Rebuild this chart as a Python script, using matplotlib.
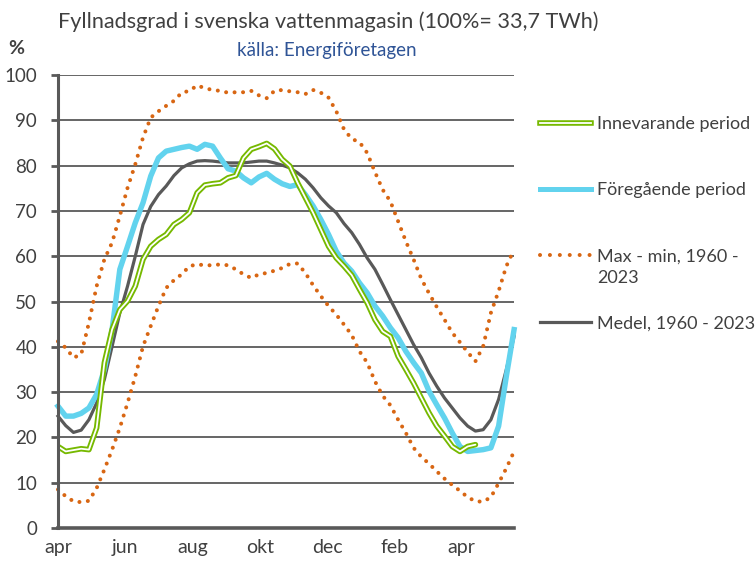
import matplotlib
matplotlib.use("Agg")
import matplotlib.pyplot as plt
from matplotlib.lines import Line2D

plt.rcParams["font.family"] = ["Lato", "DejaVu Sans"]

# weekly values, week 0 = start of april
innevarande = [18.0, 16.9, 17.2, 17.5, 17.3, 22.1, 36.5, 43.8, 48.2, 50.1,
               53.4, 59.3, 62.2, 63.7, 64.8, 67.0, 68.1, 69.6, 74.0, 75.7,
               76.0, 76.2, 77.3, 77.8, 81.7, 83.6, 84.2, 84.9, 83.7, 81.4,
               79.9, 76.2, 72.9, 69.6, 65.9, 62.2, 59.6, 57.8, 55.8, 52.7,
               49.7, 46.0, 43.4, 42.3, 37.9, 35.0, 32.0, 28.7, 25.4, 22.5,
               20.3, 18.0, 16.9, 18.0, 18.4]
foregaende = [26.9, 24.7, 24.7, 25.3, 26.5, 29.5, 35.0, 43.8, 57.1, 62.2,
              67.4, 71.8, 77.7, 81.7, 83.2, 83.6, 84.0, 84.3, 83.6, 84.7,
              84.3, 81.7, 79.3, 78.8, 77.3, 76.2, 77.5, 78.3, 77.0, 76.0,
              75.4, 75.8, 73.6, 71.1, 68.1, 64.8, 61.1, 58.5, 56.7, 54.1,
              51.9, 49.0, 46.8, 44.2, 42.0, 39.0, 36.5, 34.2, 30.2, 27.2,
              24.3, 21.0, 18.0, 16.9, 17.1, 17.3, 17.7, 22.5, 33.5, 43.8]
maxv = [41.2, 39.8, 37.6, 38.3, 45.3, 53.4, 59.3, 63.0, 68.9, 75.1,
        80.3, 86.2, 90.6, 92.0, 93.2, 94.3, 96.1, 96.5, 97.7, 97.1,
        96.7, 96.5, 96.1, 96.2, 96.2, 96.5, 95.5, 94.9, 96.5, 96.7,
        96.4, 96.2, 95.8, 96.7, 96.1, 95.0, 92.0, 88.0, 85.9, 85.2,
        82.8, 78.6, 74.7, 72.1, 67.7, 63.3, 59.3, 55.0, 51.8, 48.8,
        46.0, 43.1, 41.0, 38.8, 36.8, 40.1, 47.5, 52.3, 57.8, 61.5]
minv = [8.5, 7.0, 5.9, 5.7, 6.0, 8.8, 12.9, 17.3, 22.1, 27.6,
        33.5, 40.1, 44.6, 49.0, 53.0, 54.7, 56.0, 57.8, 58.2, 58.0,
        58.0, 58.2, 58.0, 57.1, 56.0, 55.2, 56.0, 56.3, 56.8, 57.4,
        58.3, 58.4, 56.3, 53.6, 51.2, 49.0, 47.1, 44.9, 42.6, 39.0,
        36.5, 32.4, 29.2, 27.1, 23.9, 21.0, 17.7, 15.7, 14.2, 12.5,
        10.9, 9.5, 8.2, 6.8, 5.9, 5.8, 6.8, 9.9, 13.2, 16.9]
medel = [24.7, 22.6, 21.1, 21.6, 23.9, 27.6, 32.8, 40.1, 47.5, 53.4,
         60.0, 67.0, 71.0, 73.6, 75.5, 77.8, 79.5, 80.4, 81.0, 81.1,
         81.0, 80.8, 80.6, 80.6, 80.6, 80.8, 81.0, 81.0, 80.6, 80.1,
         79.5, 78.4, 77.0, 75.1, 72.9, 71.1, 69.6, 67.2, 65.2, 62.6,
         59.6, 57.1, 53.8, 50.4, 47.1, 43.8, 40.5, 37.6, 34.2, 31.3,
         28.7, 26.5, 24.3, 22.5, 21.4, 21.7, 23.9, 28.4, 35.0, 42.3]

month_labels = ["apr", "jun", "aug", "okt", "dec", "feb", "apr"]
month_weeks = [0, 8.7, 17.4, 26.1, 34.8, 43.6, 52.2]

green = "#76B900"
blue = "#62D3EE"
orange = "#D86613"
grey = "#595959"
txt = "#404040"

fig = plt.figure(figsize=(7.56, 5.62), dpi=100)
ax = fig.add_axes([0.0767, 0.0605, 0.6033, 0.806])

ax.set_xlim(0, 59)
ax.set_ylim(0, 100)
ax.set_yticks(range(0, 101, 10))
ax.grid(axis="y", color=grey, linewidth=1.3)
ax.set_axisbelow(True)
for s in ["top", "right"]:
    ax.spines[s].set_visible(False)
ax.spines["left"].set_color(grey)
ax.spines["left"].set_linewidth(2.2)
ax.spines["bottom"].set_color(grey)
ax.spines["bottom"].set_linewidth(2.6)
ax.tick_params(axis="y", length=5, width=2, color=grey, labelsize=13.5,
               labelcolor=txt, pad=10)
ax.set_xticks(month_weeks)
ax.set_xticklabels(month_labels)
ax.tick_params(axis="x", length=0, labelsize=14, labelcolor=txt, pad=8)

dots = dict(color=orange, linewidth=2.9, linestyle=(0, (0.01, 2.1)),
            dash_capstyle="round")
ax.plot(range(len(maxv)), maxv, clip_on=False, **dots)
ax.plot(range(len(minv)), minv, clip_on=False, **dots)
ax.plot(range(len(medel)), medel, color=grey, linewidth=2.3, clip_on=False)
ax.plot(range(len(foregaende)), foregaende, color=blue, linewidth=3.9,
        clip_on=False)
ax.plot(range(len(innevarande)), innevarande, color=green, linewidth=4.0,
        solid_capstyle="round", solid_joinstyle="round")
ax.plot(range(len(innevarande)), innevarande, color="white", linewidth=1.3,
        solid_capstyle="round", solid_joinstyle="round")

fig.text(0.434, 0.961, "Fyllnadsgrad i svenska vattenmagasin (100%= 33,7 TWh)",
         ha="center", va="center", fontsize=15.6, color=txt)
fig.text(0.432, 0.911, "källa: Energiföretagen", ha="center", va="center",
         fontsize=13.5, color="#2F5496")
fig.text(0.022, 0.914, "%", ha="center", va="center", fontsize=14,
         fontweight="bold", color=txt)

# legend
lx0, lx1, tx = 540 / 756, 591 / 756, 597 / 756
legend_dots = dict(dots, linestyle=(0, (0.01, 2.45)))
entries = [
    (123, "Innevarande period", dict(color=green, linewidth=4.0)),
    (189, "Föregående period", dict(color=blue, linewidth=3.6)),
    (255, "Max - min, 1960 -\n2023", legend_dots),
    (322, "Medel, 1960 - 2023", dict(color=grey, linewidth=2.3)),
]
for ypx, label, style in entries:
    yf = 1 - ypx / 562
    fig.add_artist(Line2D([lx0, lx1], [yf, yf], transform=fig.transFigure,
                          **style))
    if label.startswith("Innevarande"):
        fig.add_artist(Line2D([lx0, lx1], [yf, yf], transform=fig.transFigure,
                              color="white", linewidth=1.3))
    fig.text(tx, yf + 0.012, label, ha="left", va="top", fontsize=13,
             color=txt, linespacing=1.45)

fig.savefig("out.png", dpi=100)
